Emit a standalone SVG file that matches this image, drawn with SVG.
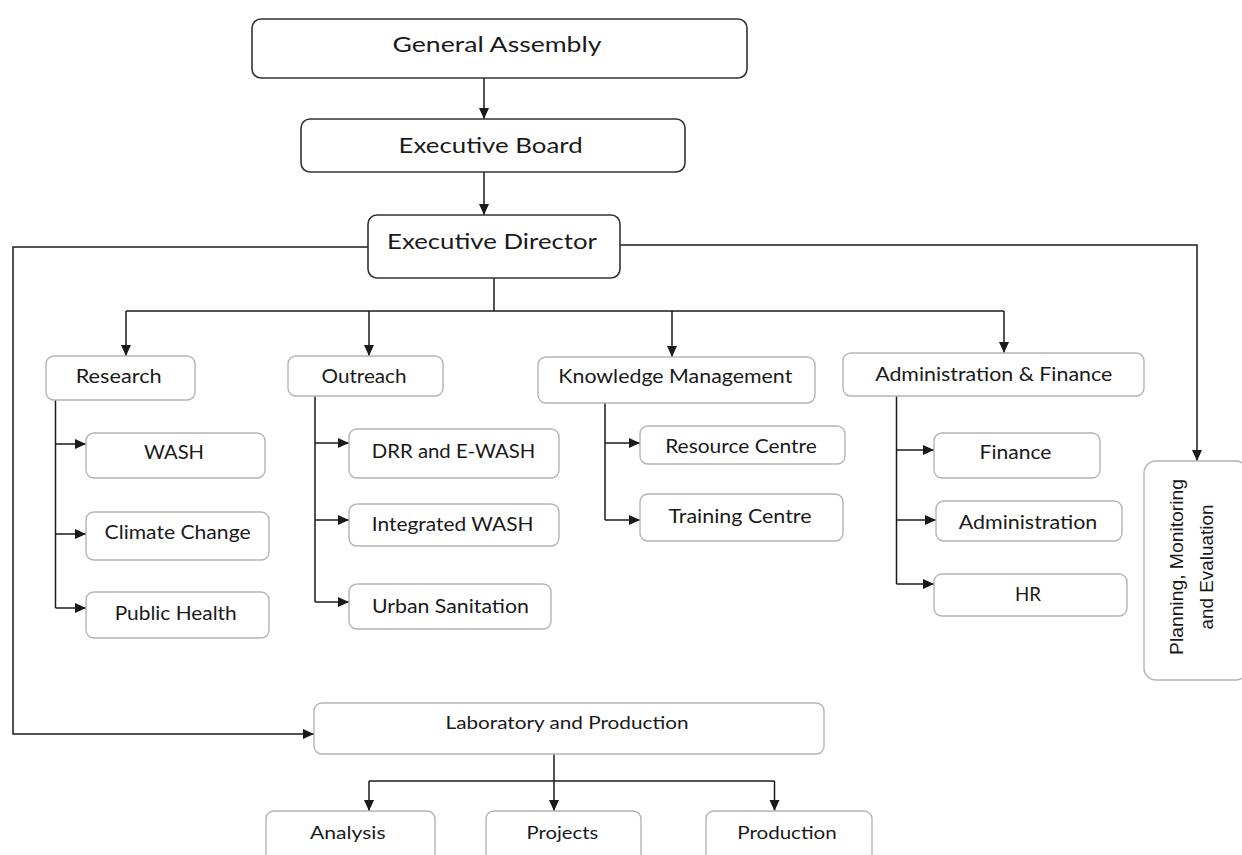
<svg xmlns="http://www.w3.org/2000/svg" width="1242" height="855" viewBox="0 0 1242 855">
<style>
.top{fill:#fff;stroke:#333;stroke-width:1.6}
.box{fill:#fff;stroke:#b4b4b4;stroke-width:1.4}
.t{font-family:Lato,"Open Sans","Liberation Sans",sans-serif;fill:#1a1a1a;text-anchor:middle}
.big{font-size:22px}
.mid{font-size:19.5px}
.sm{font-size:17.5px}
.pme{font-family:"Liberation Sans",Arial,sans-serif;font-size:17.5px;fill:#1a1a1a;text-anchor:middle}
.c{fill:none;stroke:#1a1a1a;stroke-width:1.5}
.a{fill:none;stroke:#1a1a1a;stroke-width:1.5;marker-end:url(#ah)}
</style>
<defs>
<marker id="ah" markerUnits="userSpaceOnUse" markerWidth="12" markerHeight="12" viewBox="0 0 12 12" refX="11" refY="6" orient="auto">
<path d="M0,1 L11,6 L0,11 Z" fill="#1a1a1a"/>
</marker>
</defs>
<rect width="1242" height="855" fill="#fff"/>

<g id="connectors">
<path class="a" d="M484,78 V119"/>
<path class="a" d="M484,172 V215"/>
<path class="c" d="M494,278 V311"/>
<path class="c" d="M126,311 H1004"/>
<path class="a" d="M126,311 V356"/>
<path class="a" d="M369,311 V356"/>
<path class="a" d="M672,311 V357"/>
<path class="a" d="M1004,311 V353"/>
<path class="a" d="M368,247 H13 V734 H314"/>
<path class="a" d="M620,245 H1197 V461"/>
<path class="c" d="M55.5,400 V608"/>
<path class="a" d="M55.5,444 H86"/>
<path class="a" d="M55.5,534 H86"/>
<path class="a" d="M55.5,608 H86"/>
<path class="c" d="M315,396 V602"/>
<path class="a" d="M315,443 H349"/>
<path class="a" d="M315,520 H349"/>
<path class="a" d="M315,602 H349"/>
<path class="c" d="M605,403 V520"/>
<path class="a" d="M605,443 H640"/>
<path class="a" d="M605,520 H640"/>
<path class="c" d="M896.5,396 V584"/>
<path class="a" d="M896.5,450 H934"/>
<path class="a" d="M896.5,520 H936"/>
<path class="a" d="M896.5,584 H934"/>
<path class="a" d="M554,754 V811"/>
<path class="c" d="M369,781 H774.5"/>
<path class="a" d="M369,781 V811"/>
<path class="a" d="M774.5,781 V811"/>
</g>

<g id="general-assembly"><rect class="top" x="252" y="19" width="495" height="59" rx="9"/><text class="t big" x="497" y="52" textLength="209" lengthAdjust="spacingAndGlyphs">General Assembly</text></g>
<g id="executive-board"><rect class="top" x="301" y="119" width="384" height="53" rx="9"/><text class="t big" x="490.6" y="153" textLength="184" lengthAdjust="spacingAndGlyphs">Executive Board</text></g>
<g id="executive-director"><rect class="top" x="368" y="215" width="252" height="63" rx="9"/><text class="t big" x="492" y="249" textLength="210" lengthAdjust="spacingAndGlyphs">Executive Director</text></g>

<g id="research"><rect class="box" x="46" y="356" width="149" height="44" rx="8"/><text class="t mid" x="118.7" y="383" textLength="86" lengthAdjust="spacingAndGlyphs">Research</text></g>
<g id="outreach"><rect class="box" x="288" y="356" width="155" height="40" rx="8"/><text class="t mid" x="364" y="383" textLength="85" lengthAdjust="spacingAndGlyphs">Outreach</text></g>
<g id="knowledge-management"><rect class="box" x="538" y="357" width="277" height="46" rx="8"/><text class="t mid" x="675.3" y="382.7" textLength="234" lengthAdjust="spacingAndGlyphs">Knowledge Management</text></g>
<g id="admin-finance"><rect class="box" x="843" y="353" width="301" height="43" rx="8"/><text class="t mid" x="993.7" y="380.7" textLength="237" lengthAdjust="spacingAndGlyphs">Administration &amp; Finance</text></g>

<g id="wash"><rect class="box" x="86" y="433" width="179" height="45" rx="8"/><text class="t mid" x="174" y="459" textLength="60" lengthAdjust="spacingAndGlyphs">WASH</text></g>
<g id="climate-change"><rect class="box" x="86" y="512" width="183" height="48" rx="8"/><text class="t mid" x="177.6" y="539" textLength="146" lengthAdjust="spacingAndGlyphs">Climate Change</text></g>
<g id="public-health"><rect class="box" x="86" y="592" width="183" height="46" rx="8"/><text class="t mid" x="175.7" y="620" textLength="122" lengthAdjust="spacingAndGlyphs">Public Health</text></g>

<g id="drr"><rect class="box" x="349" y="429" width="210" height="49" rx="8"/><text class="t mid" x="453.6" y="458" textLength="163.5" lengthAdjust="spacingAndGlyphs">DRR and E-WASH</text></g>
<g id="integrated-wash"><rect class="box" x="349" y="504" width="210" height="42" rx="8"/><text class="t mid" x="452.6" y="531" textLength="161.7" lengthAdjust="spacingAndGlyphs">Integrated WASH</text></g>
<g id="urban-sanitation"><rect class="box" x="349" y="584" width="202" height="45" rx="8"/><text class="t mid" x="450.4" y="613" textLength="157" lengthAdjust="spacingAndGlyphs">Urban Sanitation</text></g>

<g id="resource-centre"><rect class="box" x="640" y="426" width="205" height="38" rx="8"/><text class="t mid" x="741" y="453" textLength="151.7" lengthAdjust="spacingAndGlyphs">Resource Centre</text></g>
<g id="training-centre"><rect class="box" x="640" y="494" width="203" height="47" rx="8"/><text class="t mid" x="740" y="523" textLength="143" lengthAdjust="spacingAndGlyphs">Training Centre</text></g>

<g id="finance"><rect class="box" x="934" y="433" width="166" height="45" rx="8"/><text class="t mid" x="1015.5" y="459" textLength="71.8" lengthAdjust="spacingAndGlyphs">Finance</text></g>
<g id="administration"><rect class="box" x="936" y="501" width="186" height="40" rx="8"/><text class="t mid" x="1028" y="529" textLength="138.5" lengthAdjust="spacingAndGlyphs">Administration</text></g>
<g id="hr"><rect class="box" x="934" y="574" width="193" height="42" rx="8"/><text class="t mid" x="1028" y="601" textLength="26" lengthAdjust="spacingAndGlyphs">HR</text></g>

<g id="pme"><rect class="box" x="1144" y="461" width="104" height="219" rx="12"/>
<text class="pme" x="1183" y="567" transform="rotate(-90 1183 567)" textLength="176" lengthAdjust="spacingAndGlyphs">Planning, Monitoring</text>
<text class="pme" x="1213" y="567" transform="rotate(-90 1213 567)" textLength="125" lengthAdjust="spacingAndGlyphs">and Evaluation</text></g>

<g id="laboratory"><rect class="box" x="314" y="703" width="510" height="51" rx="8"/><text class="t sm" x="567" y="729" textLength="243" lengthAdjust="spacingAndGlyphs">Laboratory and Production</text></g>
<g id="analysis"><rect class="box" x="266" y="811" width="169" height="60" rx="8"/><text class="t sm" x="347.8" y="839" textLength="75.5" lengthAdjust="spacingAndGlyphs">Analysis</text></g>
<g id="projects"><rect class="box" x="486" y="811" width="155" height="60" rx="8"/><text class="t sm" x="562.4" y="839" textLength="71.7" lengthAdjust="spacingAndGlyphs">Projects</text></g>
<g id="production"><rect class="box" x="706" y="811" width="166" height="60" rx="8"/><text class="t sm" x="787" y="839" textLength="99.5" lengthAdjust="spacingAndGlyphs">Production</text></g>
</svg>
